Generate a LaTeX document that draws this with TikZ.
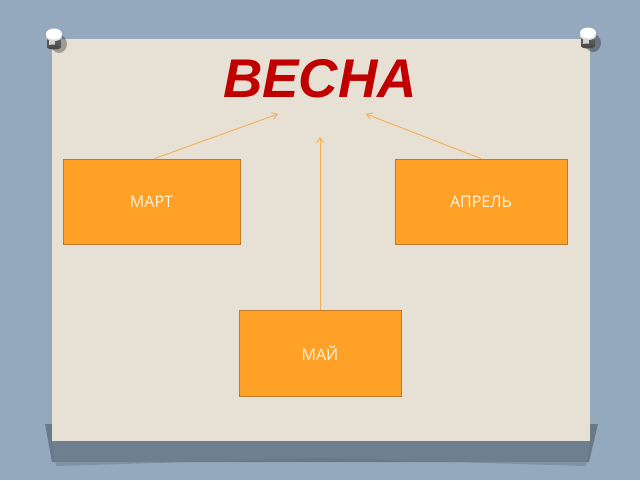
\documentclass[tikz,border=0pt]{standalone}
\usepackage{fontspec}
\setmainfont{Open Sans}
\newfontfamily\titlefont{Liberation Sans}
\usetikzlibrary{arrows.meta}
\definecolor{bgblue}{RGB}{148,169,189}
\definecolor{paper}{RGB}{231,224,212}
\definecolor{shadowc}{RGB}{92,106,120}
\definecolor{boxfill}{RGB}{255,161,38}
\definecolor{boxline}{RGB}{190,122,40}
\definecolor{boxtext}{RGB}{255,244,222}
\definecolor{arrowc}{RGB}{244,176,82}
\definecolor{titlered}{RGB}{192,0,0}
\tikzset{
  monthbox/.style={draw=boxline, line width=0.9pt, fill=boxfill, text=boxtext,
    font=\fontsize{16}{19}\selectfont, inner sep=0pt},
  linkarrow/.style={draw=arrowc, line width=0.9pt, -{Straight Barb[length=5pt,width=7pt]}},
}
\begin{document}
\begin{tikzpicture}[x=1pt,y=-1pt]
\useasboundingbox (0,0) rectangle (640,480);
\fill[bgblue] (0,0) rectangle (640,480);
% paper shadow
\fill[shadowc, opacity=0.75] (45,424) -- (598,424) -- (589,462) -- (52,462) -- cycle;
\fill[shadowc!60!bgblue, opacity=0.6] (52,441) -- (590,441) -- (586,466) -- (320,458) -- (56,466) -- cycle;
% paper
\fill[paper] (52,39) rectangle (590,441);
% pins
\foreach \px/\py in {54/34, 588/33}{
  \fill[black, opacity=0.3] (\px+5,\py+10) ellipse (8 and 9);
  \fill[gray!70!black] (\px-7,\py) rectangle (\px+7,\py+13);
  \fill[gray!35] (\px-5,\py+1) rectangle (\px+1,\py+12);
  \fill[gray!60!black] (\px,\py+13) ellipse (7 and 2.5);
  \fill[gray!30] (\px,\py+3) ellipse (8 and 4);
  \fill[white] (\px,\py) ellipse (8 and 5.5);
}
% title
\node[anchor=base, text=titlered, font=\titlefont\fontsize{54.5}{60}\selectfont\bfseries\itshape] (title) at (320,97) {ВЕСНА};
% boxes
\node[monthbox, minimum width=177pt, minimum height=85pt] (mart) at (151.5,201.5) {\raisebox{-1.5pt}{МАРТ}};
\node[monthbox, minimum width=172pt, minimum height=85pt] (aprel) at (481,201.5) {\raisebox{-1.5pt}{АПРЕЛЬ}};
\node[monthbox, minimum width=162pt, minimum height=86pt] (mai) at (320,353) {\raisebox{-1pt}{МАЙ}};
% arrow targets
\coordinate (tl) at (278,114);
\coordinate (tr) at (366,114);
\coordinate (tm) at (320,137);
\draw[linkarrow] ([xshift=3pt]mart.north) -- (tl);
\draw[linkarrow] (aprel.north) -- (tr);
\draw[linkarrow] (mai.north) -- (tm);
\end{tikzpicture}
\end{document}
